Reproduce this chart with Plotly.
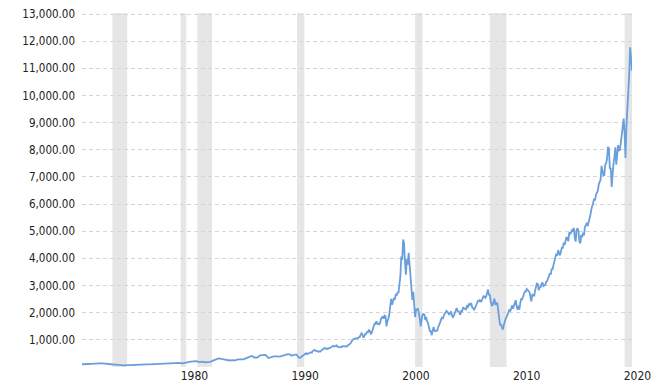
import plotly.graph_objects as go
import pandas as pd

# NASDAQ composite
# 1971-1989: start value (Feb 1971) then quarter-end values
early_start = 100.6
early_quarterly = [
    105, 107, 110, 114,   # 1971
    128, 130, 130, 134,   # 1972
    118, 107, 112, 92,    # 1973
    90, 76, 56, 60,       # 1974
    71, 84, 74, 78,       # 1975
    90, 91, 91, 98,       # 1976
    95, 100, 100, 105,    # 1977
    104, 116, 132, 118,   # 1978
    134, 138, 149, 151,   # 1979
    131, 157, 188, 202,   # 1980
    210, 215, 180, 196,   # 1981
    175, 171, 188, 232,   # 1982
    270, 319, 296, 279,   # 1983
    251, 240, 250, 247,   # 1984
    280, 292, 280, 325,   # 1985
    374, 405, 350, 349,   # 1986
    430, 425, 444, 331,   # 1987
    375, 394, 388, 381,   # 1988
    406, 435, 472, 454,   # 1989
]
# 1990-01 .. 2020-10 monthly closes
monthly = [
    416, 425, 435, 420, 459, 462, 438, 381, 345, 329, 359, 374,          # 1990
    414, 453, 482, 484, 506, 475, 502, 526, 527, 542, 523, 586,          # 1991
    620, 633, 603, 578, 585, 563, 581, 563, 583, 605, 652, 677,          # 1992
    696, 671, 690, 661, 700, 704, 705, 742, 763, 779, 754, 777,          # 1993
    800, 793, 743, 733, 735, 706, 722, 766, 764, 777, 750, 752,          # 1994
    755, 794, 817, 843, 865, 933, 1001, 1020, 1044, 1036, 1059, 1052,    # 1995
    1059, 1100, 1101, 1191, 1243, 1185, 1081, 1141, 1226, 1222, 1293, 1291,  # 1996
    1380, 1309, 1222, 1261, 1400, 1443, 1594, 1587, 1686, 1594, 1601, 1570,  # 1997
    1619, 1771, 1835, 1868, 1779, 1895, 1873, 1499, 1694, 1771, 1950, 2193,  # 1998
    2506, 2288, 2461, 2543, 2471, 2686, 2638, 2739, 2746, 2966, 3336, 4069,  # 1999
    3940, 4697, 4573, 3861, 3401, 3966, 3767, 4206, 3673, 3370, 2598, 2471,  # 2000
    2773, 2152, 1840, 2116, 2110, 2161, 2027, 1805, 1499, 1690, 1931, 1950,  # 2001
    1934, 1731, 1845, 1688, 1616, 1463, 1328, 1315, 1172, 1330, 1479, 1336,  # 2002
    1321, 1337, 1341, 1464, 1596, 1623, 1735, 1810, 1787, 1932, 1960, 2003,  # 2003
    2066, 2030, 1994, 1920, 1987, 2048, 1887, 1838, 1897, 1975, 2097, 2175,  # 2004
    2062, 2052, 1999, 1922, 2068, 2057, 2185, 2152, 2152, 2120, 2233, 2205,  # 2005
    2306, 2281, 2340, 2323, 2179, 2172, 2091, 2184, 2258, 2367, 2432, 2415,  # 2006
    2464, 2416, 2422, 2525, 2605, 2603, 2546, 2596, 2702, 2859, 2661, 2652,  # 2007
    2390, 2271, 2279, 2413, 2523, 2293, 2326, 2368, 2092, 1721, 1536, 1577,  # 2008
    1476, 1378, 1529, 1717, 1774, 1835, 1979, 2009, 2122, 2045, 2145, 2269,  # 2009
    2147, 2238, 2398, 2461, 2257, 2109, 2255, 2114, 2369, 2507, 2498, 2653,  # 2010
    2700, 2782, 2781, 2874, 2835, 2774, 2756, 2579, 2415, 2684, 2620, 2605,  # 2011
    2814, 2967, 3092, 3046, 2827, 2935, 2940, 3067, 3116, 2977, 3010, 3020,  # 2012
    3142, 3160, 3268, 3329, 3456, 3403, 3626, 3590, 3771, 3920, 4060, 4177,  # 2013
    4104, 4308, 4199, 4115, 4243, 4408, 4370, 4580, 4493, 4631, 4792, 4736,  # 2014
    4635, 4964, 4901, 4941, 5070, 4987, 5128, 4777, 4620, 5054, 5109, 5007,  # 2015
    4614, 4558, 4870, 4775, 4948, 4843, 5162, 5213, 5312, 5189, 5324, 5383,  # 2016
    5615, 5825, 5912, 6048, 6199, 6140, 6348, 6429, 6496, 6728, 6874, 6903,  # 2017
    7411, 7273, 7063, 7066, 7442, 7510, 7672, 8110, 8046, 7306, 7331, 6635,  # 2018
    7282, 7533, 7729, 8095, 7453, 8006, 8175, 7963, 7999, 8292, 8665, 8973,  # 2019
    9151, 8567, 7700, 8890, 9490, 10059, 10745, 11775, 11168, 10911,         # 2020
]

recessions = [
    ("1973-11-01", "1975-03-01"),
    ("1980-01-01", "1980-07-01"),
    ("1981-07-01", "1982-11-01"),
    ("1990-07-01", "1991-03-01"),
    ("2001-03-01", "2001-11-01"),
    ("2007-12-01", "2009-06-01"),
    ("2020-02-01", "2020-10-01"),
]

y_ticks = list(range(0, 14000, 1000))
y_labels = ["" if v == 0 else f"{v:,.2f}" for v in y_ticks]
x_ticks = ["1980-01-01", "1990-01-01", "2000-01-01", "2010-01-01", "2020-01-01"]
x_labels = ["1980", "1990", "2000", "2010", "2020"]

# dates
early_dates = [pd.Timestamp("1971-02-01")]
for yr in range(1971, 1990):
    for m in (3, 6, 9, 12):
        early_dates.append(pd.Timestamp(year=yr, month=m, day=1))
monthly_dates = list(pd.date_range("1990-01-01", periods=len(monthly), freq="MS"))

dates = early_dates + monthly_dates
values = [early_start] + early_quarterly + monthly

font_family = "DejaVu Sans Condensed, DejaVu Sans, sans-serif"
text_color = "#222222"

fig = go.Figure()
fig.add_trace(go.Scatter(
    x=dates, y=values, mode="lines",
    line=dict(color="#6a9fdb", width=1.8),
    hoverinfo="x+y",
))

for s, e in recessions:
    fig.add_shape(type="rect", xref="x", yref="paper", x0=s, x1=e, y0=0, y1=1,
                  fillcolor="#e6e6e6", line=dict(width=0), layer="below")

# page body has an 8px margin; figure sized to fill the rest of the window
fig.update_layout(
    width=652, height=379,
    margin=dict(l=74, r=28, t=5, b=20, autoexpand=False),
    paper_bgcolor="white", plot_bgcolor="white",
    showlegend=False,
    font=dict(family=font_family, size=11.5, color=text_color),
)
fig.update_xaxes(
    type="date",
    range=[dates[0], dates[-1]],
    tickvals=x_ticks, ticktext=x_labels,
    ticklabelposition="outside right",
    ticklabeloverflow="allow",
    showgrid=False, zeroline=False, showline=False,
    ticks="", automargin=False,
    tickfont=dict(size=12, color=text_color),
)
fig.update_yaxes(
    range=[0, 13040],
    tickvals=y_ticks, ticktext=y_labels,
    ticklabeloverflow="allow",
    showgrid=True, gridcolor="#d6d6d6", griddash="4px,3px", gridwidth=1,
    zeroline=False, showline=False, ticks="", automargin=False,
    ticklabelstandoff=6,
    tickfont=dict(size=11.5, color=text_color),
)

fig.write_html("out.html")
